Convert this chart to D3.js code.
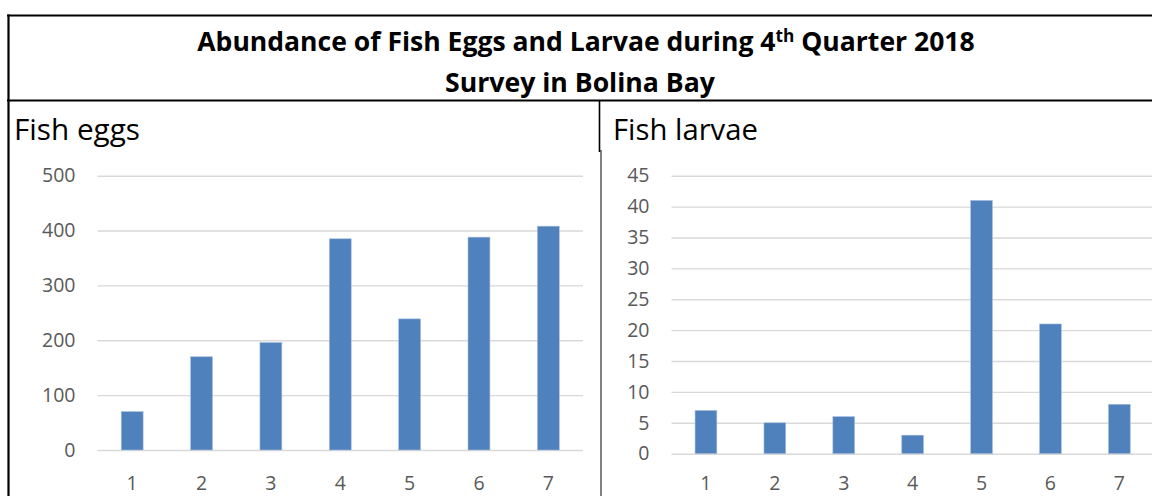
<!DOCTYPE html>
<html>
<head>
<meta charset="utf-8">
<script src="https://cdn.jsdelivr.net/npm/d3@7/dist/d3.min.js"></script>
<style>
  body { margin: 0; background: #fff; }
  svg { display: block; font-family: "Open Sans", "Noto Sans", sans-serif; }
</style>
</head>
<body>
<svg id="chart" width="1152" height="496"></svg>
<script>
// data
const stations = ["1", "2", "3", "4", "5", "6", "7"]
const fishEggs = [70, 170, 196, 385, 239, 388, 408]
const fishLarvae = [7, 5, 6, 3, 41, 21, 8]
const eggTicks = [0, 100, 200, 300, 400, 500]
const larvaeTicks = [0, 5, 10, 15, 20, 25, 30, 35, 40, 45]

const barColor = "#4f81bd"
const gridColor = "#d9d9d9"
const labelColor = "#595959"

const svg = d3.select("#chart")

// shrink/grow a text node's font so it spans a given width
function fitWidth (sel, w) {
  const node = sel.node()
  const size = parseFloat(sel.attr("font-size"))
  const len = node.getComputedTextLength()
  sel.attr("font-size", (size * w / len).toFixed(2))
}

// table frame
const frame = svg.append("g").attr("stroke", "#000")
frame.append("line").attr("x1", 7).attr("x2", 1152).attr("y1", 15.5).attr("y2", 15.5).attr("stroke-width", 2.2)
frame.append("line").attr("x1", 7).attr("x2", 1152).attr("y1", 100.5).attr("y2", 100.5).attr("stroke-width", 2.2)
frame.append("line").attr("x1", 8.5).attr("x2", 8.5).attr("y1", 14.5).attr("y2", 496).attr("stroke-width", 2.2)
frame.append("line").attr("x1", 599.5).attr("x2", 599.5).attr("y1", 100).attr("y2", 152).attr("stroke-width", 1.6)
frame.append("line").attr("x1", 601).attr("x2", 601).attr("y1", 150).attr("y2", 496).attr("stroke-width", 1)

// title
const t1 = svg.append("text")
  .attr("x", 586).attr("y", 51)
  .attr("text-anchor", "middle")
  .attr("font-weight", "bold").attr("font-size", 24)
  .attr("fill", "#000")
t1.append("tspan").text("Abundance of Fish Eggs and Larvae during 4")
t1.append("tspan").text("th").attr("font-size", "0.65em").attr("dy", -9)
t1.append("tspan").text(" Quarter 2018").attr("dy", 9)
fitWidth(t1, 778)

const t2 = svg.append("text")
  .attr("x", 580).attr("y", 92)
  .attr("text-anchor", "middle")
  .attr("font-weight", "bold").attr("font-size", 24)
  .attr("fill", "#000")
  .text("Survey in Bolina Bay")
fitWidth(t2, 270)

function barChart (opts) {
  const g = svg.append("g")

  g.append("text")
    .attr("x", opts.titleX).attr("y", 140)
    .attr("font-size", 24).attr("fill", "#000")
    .text(opts.title)
    .call(fitWidth, opts.titleW)

  const x = d3.scaleBand()
    .domain(stations)
    .range(opts.xRange)
    .paddingInner(0.684)
    .paddingOuter(0.342)

  const y = d3.scaleLinear()
    .domain([0, d3.max(opts.ticks)])
    .range([opts.y0, opts.yTop])

  const gridRight = opts.gridRight
  const yAxis = g.append("g")
    .attr("transform", `translate(${opts.xRange[0]},0)`)
    .call(d3.axisLeft(y)
      .tickValues(opts.ticks)
      .tickSize(-(gridRight - opts.xRange[0]))
      .tickPadding(22))
  yAxis.select(".domain").remove()
  yAxis.selectAll(".tick line").attr("stroke", gridColor).attr("stroke-width", 1.4)
  yAxis.selectAll(".tick text")
    .attr("fill", labelColor)
    .attr("font-size", 19.5)
    .attr("font-family", "Open Sans, sans-serif")
    .attr("dx", opts.labelShift)

  g.selectAll(".bar")
    .data(opts.values)
    .enter()
    .append("rect")
    .attr("class", "bar")
    .attr("x", (d, i) => x(stations[i]))
    .attr("width", x.bandwidth())
    .attr("y", d => y(d))
    .attr("height", d => y(0) - y(d))
    .attr("fill", barColor)
    .attr("stroke", "#a9bedd")
    .attr("stroke-width", 0.6)

  g.selectAll(".xlabel")
    .data(stations)
    .enter()
    .append("text")
    .attr("class", "xlabel")
    .attr("x", d => x(d) + x.bandwidth() / 2)
    .attr("y", 490)
    .attr("text-anchor", "middle")
    .attr("font-size", 19.5)
    .attr("fill", labelColor)
    .text(d => d)
}

barChart({
  title: "Fish eggs", titleX: 14, titleW: 126,
  values: fishEggs, ticks: eggTicks,
  xRange: [97.5, 583], gridRight: 583,
  y0: 450, yTop: 175.7, labelShift: 0
})

barChart({
  title: "Fish larvae", titleX: 613, titleW: 145,
  values: fishLarvae, ticks: larvaeTicks,
  xRange: [671.5, 1153.8], gridRight: 1153.8,
  y0: 453.7, yTop: 175.7, labelShift: 0
})
</script>
</body>
</html>
